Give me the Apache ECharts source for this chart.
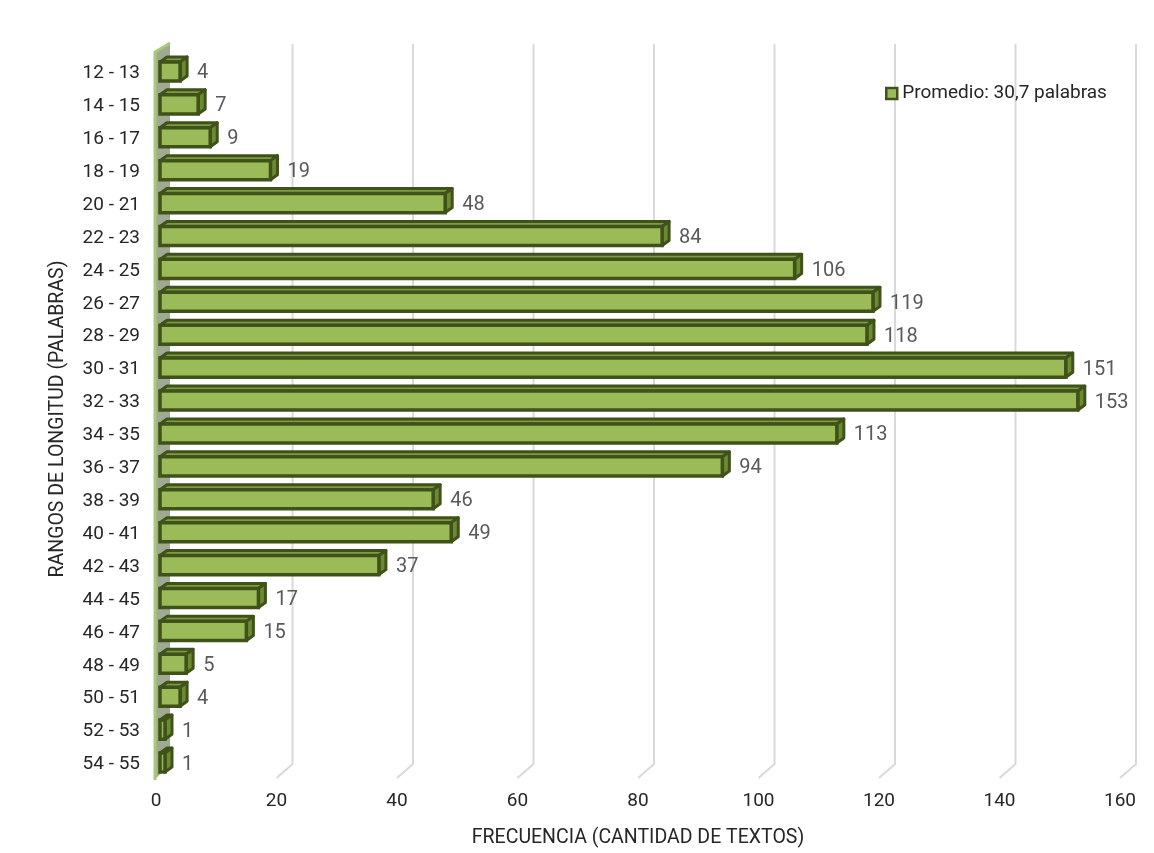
<!DOCTYPE html>
<html>
<head>
<meta charset="utf-8">
<script src="https://cdn.jsdelivr.net/npm/echarts@6/dist/echarts.min.js"></script>
<style>
  html, body { margin: 0; padding: 0; background: #fff; }
  #chart { width: 1154px; height: 853px; }
</style>
</head>
<body>
<div id="chart"></div>
<script>
var rangos = ["12 - 13", "14 - 15", "16 - 17", "18 - 19", "20 - 21", "22 - 23", "24 - 25", "26 - 27",
  "28 - 29", "30 - 31", "32 - 33", "34 - 35", "36 - 37", "38 - 39", "40 - 41", "42 - 43",
  "44 - 45", "46 - 47", "48 - 49", "50 - 51", "52 - 53", "54 - 55"];
var frecuencia = [4, 7, 9, 19, 48, 84, 106, 119, 118, 151, 153, 113, 94, 46, 49, 37, 17, 15, 5, 4, 1, 1];
var ticksX = [0, 20, 40, 60, 80, 100, 120, 140, 160];
var nombreSerie = "Promedio: 30,7 palabras";

var FONT = "Roboto";
var myChart = echarts.init(document.getElementById("chart"));

// lineas de division con el "suelo" en perspectiva
function renderGrid(params, api) {
  var v = api.value(0);
  var x = api.coord([v, 0])[0];
  var cs = params.coordSys;
  var bottom = cs.y + cs.height - 3;
  var top = cs.y - 13;
  if (v === 0) {
    // pared lateral izquierda
    return {
      type: "group",
      children: [
        {
          type: "polygon",
          shape: { points: [[x - 2, bottom + 2], [x - 2, top + 8], [x + 14, top - 1], [x + 14, bottom - 13]] },
          style: { fill: "#a0a992" }
        },
        {
          type: "polyline",
          shape: { points: [[x - 1, bottom + 2], [x - 1, top + 8], [x + 14, top - 1]] },
          style: { stroke: "#a9c97a", lineWidth: 3, fill: null }
        }
      ]
    };
  }
  return {
    type: "polyline",
    shape: { points: [[x, bottom], [x + 16, bottom - 14], [x + 16, top]] },
    style: { stroke: "#d9d9d9", lineWidth: 2, fill: null }
  };
}

// barra con caras superior y lateral
function renderBar(params, api) {
  var v = api.value(0);
  var c = api.value(1);
  var start = api.coord([0, c]);
  var end = api.coord([v, c]);
  var cy = end[1] - 3;
  var h = api.size([0, 1])[1] * 0.58;
  var x0 = start[0] + 4;
  var x1 = Math.max(end[0], x0 + 5);
  var y0 = cy - h / 2 + 1;
  var y1 = y0 + h;
  var dx = 7, dy = 5;
  var borde = "#3f5219";
  return {
    type: "group",
    children: [
      {
        type: "polygon",
        shape: { points: [[x0, y0], [x0 + dx, y0 - dy], [x1 + dx, y0 - dy], [x1, y0]] },
        style: { fill: "#7f9c40", stroke: borde, lineWidth: 3, lineJoin: "round" }
      },
      {
        type: "polygon",
        shape: { points: [[x1, y0], [x1 + dx, y0 - dy], [x1 + dx, y1 - dy], [x1, y1]] },
        style: { fill: "#6d8934", stroke: borde, lineWidth: 3, lineJoin: "round" }
      },
      {
        type: "rect",
        shape: { x: x0, y: y0, width: x1 - x0, height: h },
        style: { fill: "#9bbb59", stroke: borde, lineWidth: 3.5 }
      },
      {
        type: "text",
        x: x1 + dx + 10,
        y: cy + 3,
        style: {
          text: String(v),
          fill: "#595959",
          font: "20px " + FONT,
          verticalAlign: "middle",
          align: "left"
        }
      }
    ]
  };
}

myChart.setOption({
  animation: false,
  textStyle: { fontFamily: FONT },
  grid: { left: 156, right: 34, top: 57, bottom: 72 },
  legend: {
    data: [nombreSerie],
    left: 880,
    top: 79,
    icon: "rect",
    itemWidth: 11,
    itemHeight: 11,
    itemStyle: { borderWidth: 2.5, borderColor: "#3f5219" },
    textStyle: { fontSize: 19, color: "#262626", fontFamily: FONT }
  },
  xAxis: {
    type: "value",
    min: 0,
    max: 160,
    interval: 20,
    axisLine: { show: false },
    axisTick: { show: false },
    splitLine: { show: false },
    axisLabel: { fontSize: 19, color: "#262626", margin: 11, fontFamily: FONT },
    name: "FRECUENCIA (CANTIDAD DE TEXTOS)",
    nameLocation: "middle",
    nameGap: 47,
    nameTextStyle: { fontSize: 19.5, color: "#262626", fontFamily: FONT }
  },
  yAxis: {
    type: "category",
    inverse: true,
    data: rangos,
    axisLine: { show: false },
    axisTick: { show: false },
    axisLabel: { fontSize: 19, color: "#262626", margin: 16, fontFamily: FONT },
    name: "RANGOS DE LONGITUD (PALABRAS)",
    nameLocation: "middle",
    nameGap: 88,
    nameRotate: 90,
    nameTextStyle: { fontSize: 19.5, color: "#262626", fontFamily: FONT }
  },
  series: [
    {
      name: "lineas",
      type: "custom",
      z: 1,
      clip: false,
      silent: true,
      renderItem: renderGrid,
      encode: { x: 0, y: 1 },
      data: ticksX.map(function (t) { return [t, 0]; })
    },
    {
      name: nombreSerie,
      type: "custom",
      z: 2,
      clip: false,
      renderItem: renderBar,
      itemStyle: { color: "#9bbb59", borderColor: "#3f5219", borderWidth: 2.5 },
      encode: { x: 0, y: 1 },
      data: frecuencia.map(function (v, i) { return [v, i]; })
    }
  ]
});
</script>
</body>
</html>
